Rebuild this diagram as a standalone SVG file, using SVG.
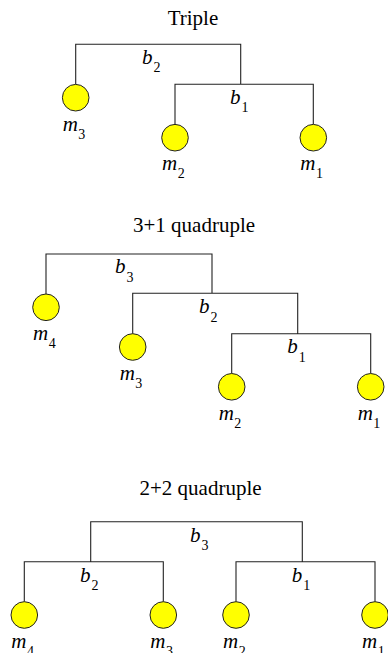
<svg xmlns="http://www.w3.org/2000/svg" width="388" height="653" viewBox="0 0 388 653">
<style>
.t{font-family:"Liberation Serif",serif;font-size:21px;fill:#000;text-anchor:middle}
.v{font-family:"Liberation Serif",serif;font-size:21px;font-style:italic;fill:#000}
.s{font-size:14px;font-style:normal}
.c{fill:#ffff00;stroke:#222;stroke-width:1}
.l{fill:none;stroke:#222;stroke-width:1.1}
</style>
<rect width="388" height="653" fill="#fff"/>
<text class="t" x="193" y="25">Triple</text>
<text class="t" x="194" y="231.7">3+1 quadruple</text>
<text class="t" x="200.5" y="495">2+2 quadruple</text>
<g id="connectors">
<path class="l" d="M75.7,84.3 V44.3 H240.7 V84.3 M175,124.3 V84.3 H313.3 V124.3"/>
<path class="l" d="M46,294 V254 H212 V293.3 M132.7,333.7 V293.3 H297.7 V333.7 M231.7,373.3 V333.7 H370.7 V373.3"/>
<path class="l" d="M90.7,561.7 V521.7 H302.3 V561.7 M24.3,601.7 V561.7 H163.3 V601.7 M236,601.7 V561.7 H375 V601.7"/>
</g>
<g id="t-b2"><text class="v" x="142" y="63.5">b<tspan class="s" dx="1" dy="8.5">2</tspan></text></g>
<g id="t-b1"><text class="v" x="230" y="103.5">b<tspan class="s" dx="1" dy="8.5">1</tspan></text></g>
<g id="t-m3"><circle class="c" cx="75.7" cy="97.7" r="13.3"/><text class="v" x="62.7" y="130.5">m<tspan class="s" dx="0.5" dy="8">3</tspan></text></g>
<g id="t-m2"><circle class="c" cx="175" cy="137.7" r="13.3"/><text class="v" x="162" y="170">m<tspan class="s" dx="0.5" dy="8">2</tspan></text></g>
<g id="t-m1"><circle class="c" cx="313.3" cy="137.7" r="13.3"/><text class="v" x="300.3" y="170">m<tspan class="s" dx="0.5" dy="8">1</tspan></text></g>
<g id="q1-b3"><text class="v" x="115" y="273.3">b<tspan class="s" dx="1" dy="8.5">3</tspan></text></g>
<g id="q1-b2"><text class="v" x="199" y="313.3">b<tspan class="s" dx="1" dy="8.5">2</tspan></text></g>
<g id="q1-b1"><text class="v" x="287.3" y="353.3">b<tspan class="s" dx="1" dy="8.5">1</tspan></text></g>
<g id="q1-m4"><circle class="c" cx="46" cy="307.3" r="13.3"/><text class="v" x="33" y="340">m<tspan class="s" dx="0.5" dy="8">4</tspan></text></g>
<g id="q1-m3"><circle class="c" cx="132.7" cy="347" r="13.3"/><text class="v" x="119.7" y="380">m<tspan class="s" dx="0.5" dy="8">3</tspan></text></g>
<g id="q1-m2"><circle class="c" cx="231.7" cy="386.8" r="13.3"/><text class="v" x="218.7" y="420">m<tspan class="s" dx="0.5" dy="8">2</tspan></text></g>
<g id="q1-m1"><circle class="c" cx="370.7" cy="386.8" r="13.3"/><text class="v" x="357.7" y="420">m<tspan class="s" dx="0.5" dy="8">1</tspan></text></g>
<g id="q2-b3"><text class="v" x="190" y="541.7">b<tspan class="s" dx="1" dy="8.5">3</tspan></text></g>
<g id="q2-b2"><text class="v" x="80" y="581.7">b<tspan class="s" dx="1" dy="8.5">2</tspan></text></g>
<g id="q2-b1"><text class="v" x="291.7" y="581.7">b<tspan class="s" dx="1" dy="8.5">1</tspan></text></g>
<g id="q2-m4"><circle class="c" cx="24.3" cy="615" r="13.3"/><text class="v" x="11.3" y="647.5">m<tspan class="s" dx="0.5" dy="8">4</tspan></text></g>
<g id="q2-m3"><circle class="c" cx="163.3" cy="615" r="13.3"/><text class="v" x="150.3" y="647.5">m<tspan class="s" dx="0.5" dy="8">3</tspan></text></g>
<g id="q2-m2"><circle class="c" cx="236" cy="615" r="13.3"/><text class="v" x="223" y="647.5">m<tspan class="s" dx="0.5" dy="8">2</tspan></text></g>
<g id="q2-m1"><circle class="c" cx="375" cy="615" r="13.3"/><text class="v" x="362" y="647.5">m<tspan class="s" dx="0.5" dy="8">1</tspan></text></g>
</svg>
